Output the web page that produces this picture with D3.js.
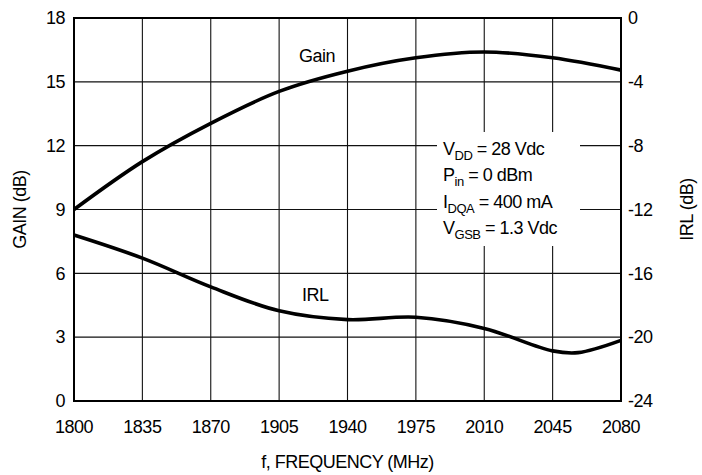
<!DOCTYPE html>
<html>
<head>
<meta charset="utf-8">
<script src="https://cdn.jsdelivr.net/npm/d3@7"></script>
<style>
  body { margin: 0; background: #fff; }
  text { font-family: "Liberation Sans", Arial, sans-serif; font-size: 18px; letter-spacing: -0.5px; fill: #000; }
</style>
</head>
<body>
<div id="chart"></div>
<script>
// frequency ticks and the two curves
var freqTicks = [1800, 1835, 1870, 1905, 1940, 1975, 2010, 2045, 2080],
    gainTicks = [0, 3, 6, 9, 12, 15, 18],
    irlTicks = [0, -4, -8, -12, -16, -20, -24];

var gainFreq = [1800, 1835, 1870, 1905, 1940, 1975, 2010, 2045, 2080],
    gainVal  = [9.0, 11.25, 13.05, 14.55, 15.5, 16.13, 16.4, 16.13, 15.55];

var irlFreq = [1800, 1835, 1870, 1905, 1940, 1975, 2010, 2045, 2058, 2080],
    irlVal  = [-13.6, -15.05, -16.85, -18.35, -18.9, -18.75, -19.45, -20.86, -20.97, -20.2];

var condLines = [
  { main: "V", sub: "DD", rest: " = 28 Vdc" },
  { main: "P", sub: "in", rest: " = 0 dBm" },
  { main: "I", sub: "DQA", rest: " = 400 mA" },
  { main: "V", sub: "GSB", rest: " = 1.3 Vdc" }
];

var W = 702, H = 475,
    margin = { top: 18, right: 81, bottom: 74, left: 74 },
    width = W - margin.left - margin.right,
    height = H - margin.top - margin.bottom;

var svg = d3.select("#chart").append("svg")
    .attr("width", W).attr("height", H);
var g = svg.append("g")
    .attr("transform", "translate(" + margin.left + "," + margin.top + ")");

var x = d3.scaleLinear().domain([1800, 2080]).range([0, width]);
var yG = d3.scaleLinear().domain([0, 18]).range([height, 0]);
var yI = d3.scaleLinear().domain([-24, 0]).range([height, 0]);

// grid
g.selectAll(".vgrid").data(freqTicks).enter().append("line")
  .attr("x1", d => x(d)).attr("x2", d => x(d))
  .attr("y1", 0).attr("y2", height)
  .attr("stroke", "#111").attr("stroke-width", 1.1);
g.selectAll(".hgrid").data(gainTicks).enter().append("line")
  .attr("x1", 0).attr("x2", width)
  .attr("y1", d => yG(d)).attr("y2", d => yG(d))
  .attr("stroke", "#111").attr("stroke-width", 1.1);

// white box behind the conditions text
g.append("rect")
  .attr("x", 437 - margin.left).attr("y", 132 - margin.top)
  .attr("width", 143).attr("height", 114)
  .attr("fill", "#fff");

// frame
g.append("rect").attr("x", 0).attr("y", 0)
  .attr("width", width).attr("height", height)
  .attr("fill", "none").attr("stroke", "#000").attr("stroke-width", 2);

// tick labels
g.selectAll(".xl").data(freqTicks).enter().append("text")
  .attr("x", d => x(d)).attr("y", height + 32)
  .attr("text-anchor", "middle").text(d => d);
g.selectAll(".yl").data(gainTicks).enter().append("text")
  .attr("x", -9).attr("y", d => yG(d)).attr("dy", "0.35em")
  .attr("text-anchor", "end").text(d => d);
g.selectAll(".yr").data(irlTicks).enter().append("text")
  .attr("x", width + 7).attr("y", d => yI(d)).attr("dy", "0.35em")
  .attr("text-anchor", "start").text(d => d === 0 ? "0" : "-" + Math.abs(d));

// axis titles
svg.append("text").attr("x", margin.left + width / 2).attr("y", 468)
  .attr("text-anchor", "middle").text("f, FREQUENCY (MHz)");
svg.append("text").attr("transform", "translate(26," + (margin.top + height / 2) + ") rotate(-90)")
  .attr("text-anchor", "middle").text("GAIN (dB)");
svg.append("text").attr("transform", "translate(693," + (margin.top + height / 2) + ") rotate(-90)")
  .attr("text-anchor", "middle").text("IRL (dB)");

// curves
var gainLine = d3.line().x((d, i) => x(gainFreq[i])).y(d => yG(d)).curve(d3.curveCatmullRom);
var irlLine = d3.line().x((d, i) => x(irlFreq[i])).y(d => yI(d)).curve(d3.curveCatmullRom);
g.append("path").attr("d", gainLine(gainVal))
  .attr("fill", "none").attr("stroke", "#000").attr("stroke-width", 3.6);
g.append("path").attr("d", irlLine(irlVal))
  .attr("fill", "none").attr("stroke", "#000").attr("stroke-width", 3.6);

// curve labels
svg.append("text").attr("x", 299).attr("y", 62).text("Gain");
svg.append("text").attr("x", 302).attr("y", 301).text("IRL");

// conditions
condLines.forEach(function (c, i) {
  var t = svg.append("text").attr("x", 443).attr("y", 155 + i * 26.3);
  t.append("tspan").text(c.main);
  t.append("tspan").attr("dy", 5).style("font-size", "13px").text(c.sub);
  t.append("tspan").attr("dy", -5).text(c.rest);
});
</script>
</body>
</html>
